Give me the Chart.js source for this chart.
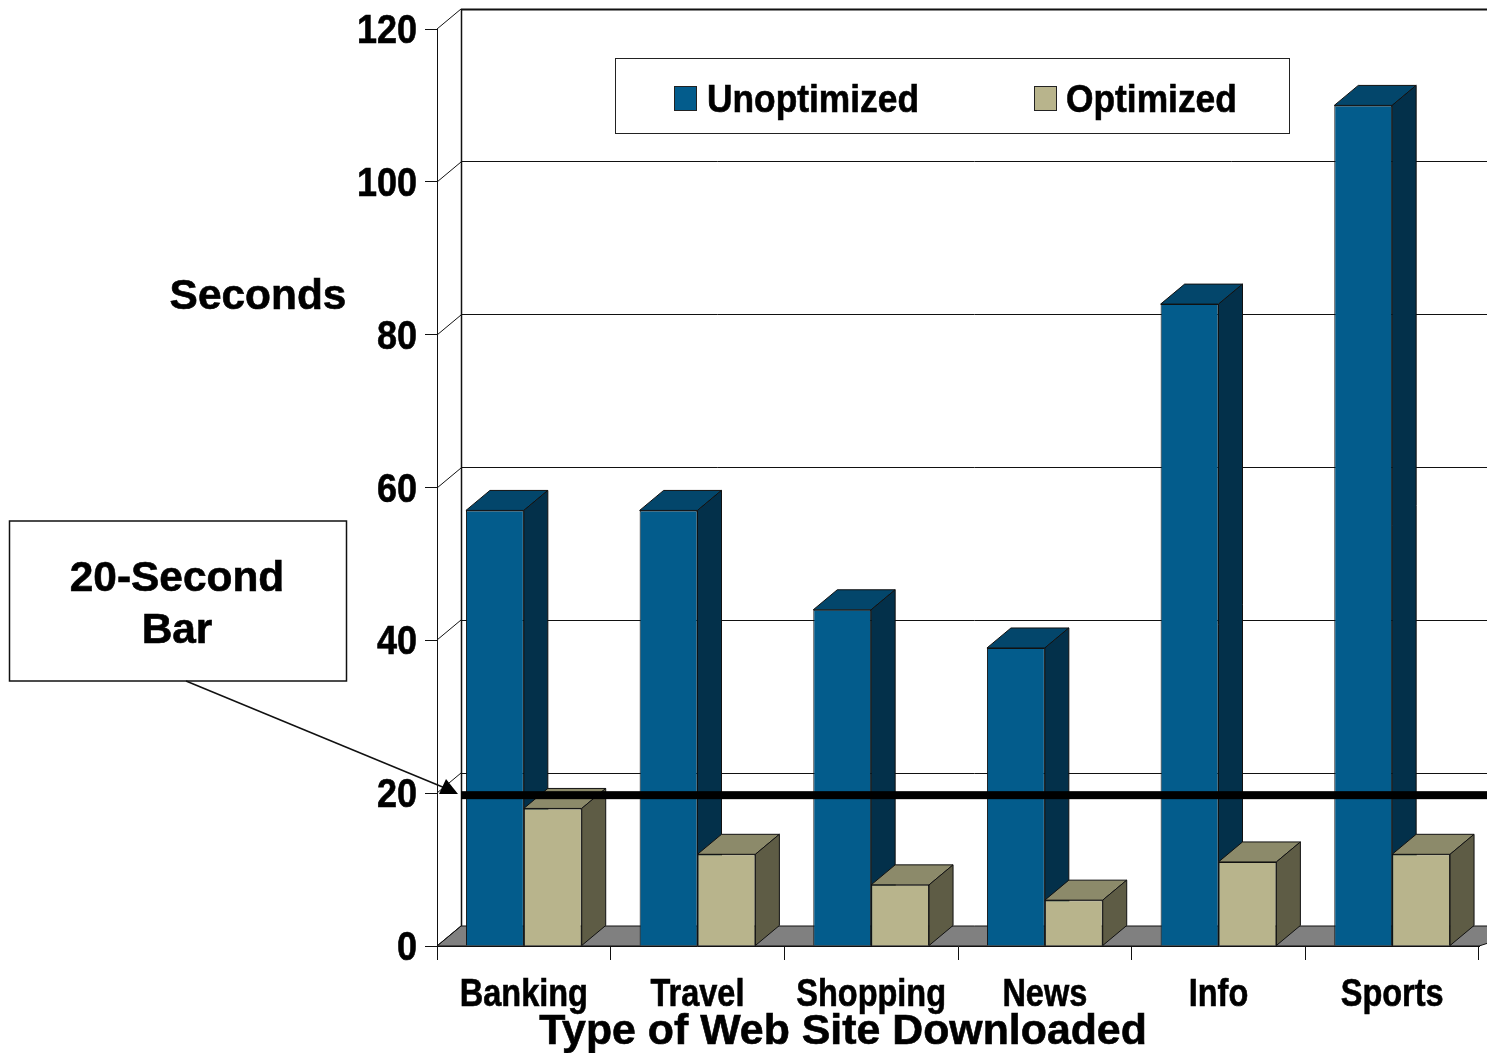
<!DOCTYPE html>
<html>
<head>
<meta charset="utf-8">
<title>Type of Web Site Downloaded</title>
<script src="https://cdn.jsdelivr.net/npm/chart.js@4/dist/chart.umd.min.js"></script>
<style>
    html, body { margin: 0; padding: 0; background: #fff; }
    canvas { display: block; }
</style>
</head>
<body>
<canvas id="grafico" width="1487" height="1053"></canvas>
<script>
// data
const categorias = ['Banking', 'Travel', 'Shopping', 'News', 'Info', 'Sports'];
const unoptimized = [57, 57, 44, 39, 84, 110];
const optimized = [18, 12, 8, 6, 11, 12];
const yTicks = [0, 20, 40, 60, 80, 100, 120];
const barraSegundos = 20;

const FONTE = '"Liberation Sans", Arial, sans-serif';
const DX = 24;  // depth of the 3D box, horizontal
const DY = 20;  // depth of the 3D box, vertical

const cores = {
    azul: '#035c8c', azulTopo: '#03466b', azulLado: '#03304a',
    tan: '#b8b48c', tanTopo: '#8c8a6a', tanLado: '#5e5c45',
    chao: '#808080', linha: '#111111'
};

function texto(ctx, str, x, y, size, sx, align) {
    ctx.save();
    ctx.translate(x, y);
    ctx.scale(sx, 1);
    ctx.font = 'bold ' + size + 'px ' + FONTE;
    ctx.fillStyle = '#000';
    ctx.strokeStyle = '#000';
    ctx.lineWidth = 0.6;
    ctx.textAlign = align;
    ctx.textBaseline = 'alphabetic';
    ctx.fillText(str, 0, 0);
    ctx.strokeText(str, 0, 0);
    ctx.restore();
}

function poligono(ctx, pts, fill) {
    ctx.beginPath();
    ctx.moveTo(pts[0][0], pts[0][1]);
    pts.slice(1).forEach(p => ctx.lineTo(p[0], p[1]));
    ctx.closePath();
    ctx.fillStyle = fill;
    ctx.fill();
    ctx.strokeStyle = cores.linha;
    ctx.lineWidth = 1;
    ctx.stroke();
}

function segmento(ctx, x1, y1, x2, y2, w) {
    ctx.beginPath();
    ctx.moveTo(x1, y1);
    ctx.lineTo(x2, y2);
    ctx.strokeStyle = cores.linha;
    ctx.lineWidth = w;
    ctx.stroke();
}

/* back wall, floor and the depth faces of the bars */
const caixa3d = {
    id: 'caixa3d',
    beforeDatasetsDraw(chart) {
        const ctx = chart.ctx;
        const a = chart.chartArea;
        const y = chart.scales.y;
        const fim = chart.width + 30;

        ctx.save();
        poligono(ctx, [[a.left, a.bottom], [a.left + DX, a.bottom - DY],
                       [fim + DX, a.bottom - DY], [a.right, a.bottom]], cores.chao);

        yTicks.forEach(v => {
            const py = y.getPixelForValue(v);
            segmento(ctx, a.left, Math.round(py), a.left + DX, Math.round(py) - DY, 1);
            if (v > 0) {
                const back = Math.floor(py - DY) + 0.5;
                segmento(ctx, a.left + DX, back, fim, back, v === 120 ? 2 : 1);
            }
        });
        segmento(ctx, a.left + DX + 0.5, a.top - DY, a.left + DX + 0.5, a.bottom - DY, 1.5);

        [[0, cores.azulTopo, cores.azulLado], [1, cores.tanTopo, cores.tanLado]].forEach(s => {
            chart.getDatasetMeta(s[0]).data.forEach(bar => {
                const esq = bar.x - bar.width / 2;
                const dir = bar.x + bar.width / 2;
                poligono(ctx, [[esq, bar.y], [esq + DX, bar.y - DY], [dir + DX, bar.y - DY], [dir, bar.y]], s[1]);
                poligono(ctx, [[dir, bar.y], [dir + DX, bar.y - DY], [dir + DX, bar.base - DY], [dir, bar.base]], s[2]);
            });
        });
        ctx.restore();
    },
    afterDraw(chart) {
        const ctx = chart.ctx;
        const a = chart.chartArea;
        const y = chart.scales.y;
        const x = chart.scales.x;

        // tick labels
        yTicks.forEach(v => {
            texto(ctx, String(v), 417, y.getPixelForValue(v) + 14, 40, 0.9, 'right');
        });
        categorias.forEach((c, i) => {
            texto(ctx, c, x.getPixelForValue(i), 1006, 38, 0.855, 'center');
        });

        // axis titles
        texto(ctx, 'Seconds', 258, 309, 42, 1.01, 'center');
        texto(ctx, 'Type of Web Site Downloaded', 843, 1044, 42, 1.02, 'center');

        // 20 second line
        ctx.save();
        const py = y.getPixelForValue(barraSegundos) + 2;
        ctx.fillStyle = '#000';
        ctx.fillRect(a.left + DX, py - 4, chart.width - a.left - DX, 8);

        // legend
        ctx.fillStyle = '#fff';
        ctx.fillRect(615, 58, 675, 76);
        ctx.strokeStyle = '#222';
        ctx.lineWidth = 1;
        ctx.strokeRect(615.5, 58.5, 674, 75);
        ctx.fillStyle = cores.azul;
        ctx.fillRect(674.5, 86.5, 22, 24);
        ctx.strokeRect(674.5, 86.5, 22, 24);
        ctx.fillStyle = cores.tan;
        ctx.fillRect(1034.5, 86.5, 22, 24);
        ctx.strokeRect(1034.5, 86.5, 22, 24);
        ctx.restore();
        texto(ctx, chart.data.datasets[0].label, 707, 112, 38, 0.93, 'left');
        texto(ctx, chart.data.datasets[1].label, 1066, 112, 38, 0.93, 'left');

        // callout
        ctx.save();
        ctx.fillStyle = '#fff';
        ctx.fillRect(9, 521, 337, 160);
        ctx.strokeStyle = '#111';
        ctx.lineWidth = 1.5;
        ctx.strokeRect(9.5, 521, 337, 160);
        segmento(ctx, 186, 681, 445, 788, 1.5);
        ctx.beginPath();
        ctx.moveTo(458, 794);
        ctx.lineTo(439, 794);
        ctx.lineTo(446, 779);
        ctx.closePath();
        ctx.fillStyle = '#000';
        ctx.fill();
        ctx.restore();
        texto(ctx, '20-Second', 177, 591, 42, 1.01, 'center');
        texto(ctx, 'Bar', 177, 643, 42, 1.01, 'center');
    }
};

new Chart(document.getElementById('grafico'), {
    type: 'bar',
    data: {
        labels: categorias,
        datasets: [
            { label: 'Unoptimized', data: unoptimized, backgroundColor: cores.azul },
            { label: 'Optimized', data: optimized, backgroundColor: cores.tan }
        ]
    },
    options: {
        responsive: false,
        animation: false,
        layout: { padding: { top: 29, right: 8 } },
        datasets: {
            bar: {
                categoryPercentage: 2 / 3,
                barPercentage: 1,
                borderWidth: 1,
                borderColor: cores.linha
            }
        },
        plugins: {
            legend: { display: false },
            tooltip: { enabled: false }
        },
        scales: {
            x: {
                ticks: { display: false },
                grid: { drawOnChartArea: false, tickLength: 14, color: '#111' },
                border: { color: '#111', width: 1 },
                afterFit(scale) { scale.height = 107; }
            },
            y: {
                min: 0,
                max: 120,
                afterBuildTicks(scale) { scale.ticks = yTicks.map(v => ({ value: v })); },
                ticks: { display: false },
                grid: { drawOnChartArea: false, tickLength: 12, color: '#111' },
                border: { color: '#111', width: 1 },
                afterFit(scale) { scale.width = 437; }
            }
        }
    },
    plugins: [caixa3d]
});
</script>
</body>
</html>
